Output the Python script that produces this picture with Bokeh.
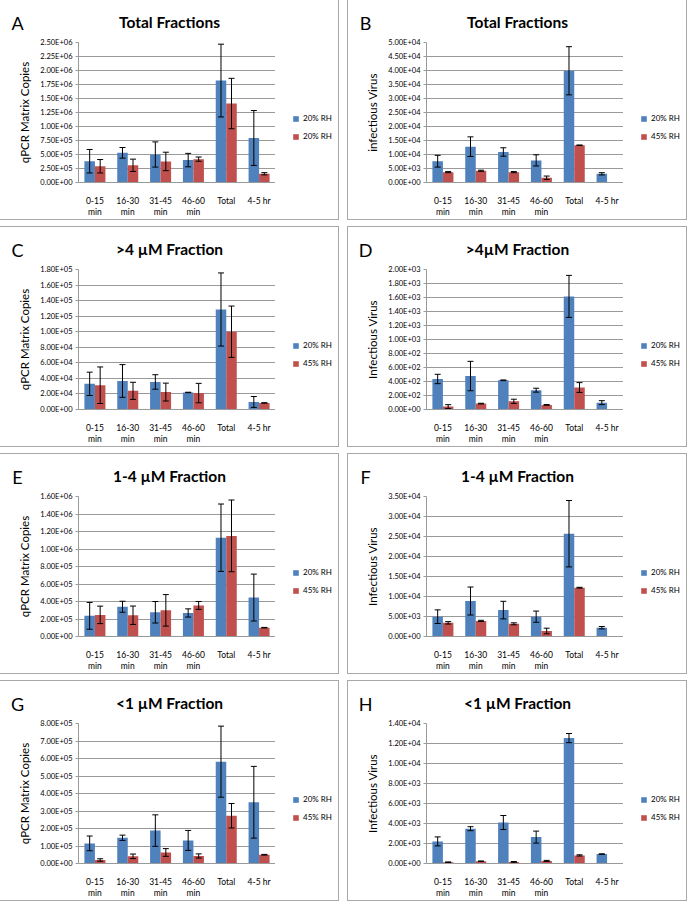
from bokeh.plotting import figure
from bokeh.models import (ColumnDataSource, Whisker, TeeHead, Legend, LegendItem,
                          FixedTicker, Range1d, FactorRange, CategoricalAxis,
                          CustomJSTickFormatter)
from bokeh.transform import dodge
from bokeh.layouts import column, row
from bokeh.core.properties import value
from bokeh.embed import file_html
from bokeh.resources import INLINE

categories = ["0-15", "16-30", "31-45", "46-60", "Total", "4-5 hr"]
second_line = ["min", "min", "min", "min", "", ""]

# Panel A
a_blue = [3.8e5, 5.3e5, 5.0e5, 4.0e5, 1.82e6, 7.95e5]
a_blue_err = [2.1e5, 0.95e5, 2.25e5, 1.2e5, 6.5e5, 4.9e5]
a_red = [2.9e5, 3.07e5, 3.76e5, 4.17e5, 1.41e6, 1.56e5]
a_red_err = [1.2e5, 1.1e5, 1.65e5, 0.38e5, 4.5e5, 0.2e5]
a_ticks = [0, 250000, 500000, 750000, 1000000, 1250000, 1500000, 1750000, 2000000, 2250000, 2500000]

# Panel B
b_blue = [7.6e3, 12.8e3, 10.9e3, 7.9e3, 39.9e3, 3.1e3]
b_blue_err = [2.1e3, 3.5e3, 1.5e3, 2.0e3, 8.6e3, 0.4e3]
b_red = [3.7e3, 4.2e3, 3.7e3, 1.7e3, 13.3e3, 0]
b_red_err = [0.2e3, 0.2e3, 0.2e3, 0.6e3, 0.1e3, 0]
b_ticks = [0, 5000, 10000, 15000, 20000, 25000, 30000, 35000, 40000, 45000, 50000]

# Panel C
c_blue = [3.3e4, 3.67e4, 3.54e4, 2.19e4, 12.86e4, 0.97e4]
c_blue_err = [1.5e4, 2.1e4, 0.93e4, 0.03e4, 4.7e4, 0.7e4]
c_red = [3.12e4, 2.4e4, 2.24e4, 2.11e4, 10.0e4, 0.84e4]
c_red_err = [2.35e4, 1.1e4, 1.15e4, 1.25e4, 3.3e4, 0.03e4]
c_ticks = [0, 20000, 40000, 60000, 80000, 100000, 120000, 140000, 160000, 180000]

# Panel D
d_blue = [436, 478, 417, 276, 1616, 98]
d_blue_err = [67, 210, 5, 28, 300, 28]
d_red = [42, 84, 117, 66, 314, 0]
d_red_err = [27, 5, 30, 5, 70, 0]
d_ticks = [0, 200, 400, 600, 800, 1000, 1200, 1400, 1600, 1800, 2000]

# Panel E
e_blue = [2.36e5, 3.4e5, 2.77e5, 2.69e5, 11.29e5, 4.45e5]
e_blue_err = [1.53e5, 0.63e5, 1.23e5, 0.47e5, 3.85e5, 2.68e5]
e_red = [2.47e5, 2.43e5, 2.99e5, 3.55e5, 11.5e5, 1.01e5]
e_red_err = [1.0e5, 1.05e5, 1.8e5, 0.45e5, 4.1e5, 0.03e5]
e_ticks = [0, 200000, 400000, 600000, 800000, 1000000, 1200000, 1400000, 1600000]

# Panel F
f_blue = [4.96e3, 8.87e3, 6.6e3, 4.96e3, 25.7e3, 2.2e3]
f_blue_err = [1.7e3, 3.5e3, 2.2e3, 1.4e3, 8.3e3, 0.3e3]
f_red = [3.42e3, 3.9e3, 3.17e3, 1.38e3, 12.2e3, 0]
f_red_err = [0.3e3, 0.15e3, 0.25e3, 0.7e3, 0.1e3, 0]
f_ticks = [0, 5000, 10000, 15000, 20000, 25000, 30000, 35000]

# Panel G
g_blue = [1.15e5, 1.47e5, 1.88e5, 1.32e5, 5.82e5, 3.5e5]
g_blue_err = [0.42e5, 0.15e5, 0.9e5, 0.57e5, 2.03e5, 2.05e5]
g_red = [0.2e5, 0.41e5, 0.63e5, 0.43e5, 2.73e5, 0.5e5]
g_red_err = [0.07e5, 0.13e5, 0.22e5, 0.12e5, 0.7e5, 0.02e5]
g_ticks = [0, 100000, 200000, 300000, 400000, 500000, 600000, 700000, 800000]

# Panel H
h_blue = [2.21e3, 3.48e3, 4.1e3, 2.64e3, 12.54e3, 0.94e3]
h_blue_err = [0.45e3, 0.2e3, 0.7e3, 0.6e3, 0.46e3, 0.03e3]
h_red = [0.13e3, 0.23e3, 0.16e3, 0.26e3, 0.81e3, 0]
h_red_err = [0.03e3, 0.02e3, 0.04e3, 0.05e3, 0.06e3, 0]
h_ticks = [0, 2000, 4000, 6000, 8000, 10000, 12000, 14000]

FONT = "Lato"
BLUE = "#4F81BD"
RED = "#C0504D"
GRID = "#9a9a9a"
PW = 338                 # panel width
HDR = 35                 # header height (letter + title)
BL, BTOP, BB = 78, 7, 36
FW, FH = 197, 140
LW = PW - BL - FW        # legend strip width
MH = BTOP + FH + BB      # main figure height
OUTLINE = {"outline": "1px solid #a8a8a8"}


def fmt(t):
    return f"{t:.2E}"


def make_panel(letter, title, ylabel, blue, blue_err, red, red_err, ticks, labels):
    # header with panel letter and title
    hd = figure(width=PW, height=HDR, x_range=Range1d(0, PW), y_range=Range1d(0, HDR),
                x_axis_type=None, y_axis_type=None, min_border=0,
                output_backend="svg", toolbar_location=None)
    hd.outline_line_color = None
    hd.grid.visible = False
    hd.text(x=[17], y=[HDR - 22], text=[letter], text_font=value(FONT),
            text_font_size="18px", text_align="center", text_baseline="middle",
            text_color="black")
    hd.text(x=[PW / 2], y=[HDR - 21], text=[title], text_font=value(FONT),
            text_font_size="15.5px", text_font_style="bold", text_align="center",
            text_baseline="middle", text_color="black")

    # main chart
    p = figure(x_range=FactorRange(*categories), y_range=Range1d(0, ticks[-1]),
               frame_width=FW, frame_height=FH,
               min_border_left=BL, min_border_right=0,
               min_border_top=BTOP, min_border_bottom=BB,
               output_backend="svg", toolbar_location=None)
    p.outline_line_color = None
    p.background_fill_color = "white"
    p.border_fill_color = "white"

    src = ColumnDataSource(dict(x=categories, blue=blue, red=red))
    p.vbar(x=dodge("x", -0.16, range=p.x_range), top="blue", width=0.32,
           source=src, fill_color=BLUE, line_color=None)
    p.vbar(x=dodge("x", 0.16, range=p.x_range), top="red", width=0.32,
           source=src, fill_color=RED, line_color=None)

    for vals, errs, off in ((blue, blue_err, -0.16), (red, red_err, 0.16)):
        xs = [c for c, v in zip(categories, vals) if v > 0]
        up = [v + e for v, e in zip(vals, errs) if v > 0]
        lo = [max(v - e, 0) for v, e in zip(vals, errs) if v > 0]
        ws = ColumnDataSource(dict(x=xs, upper=up, lower=lo))
        w = Whisker(source=ws, base=dodge("x", off, range=p.x_range), upper="upper",
                    lower="lower", line_color="black", line_width=1, level="overlay",
                    upper_head=TeeHead(size=6, line_color="black", line_width=1),
                    lower_head=TeeHead(size=6, line_color="black", line_width=1))
        p.add_layout(w)

    tick_labels = [fmt(t) for t in ticks]
    p.yaxis.ticker = FixedTicker(ticks=ticks)
    p.yaxis.formatter = CustomJSTickFormatter(
        args=dict(tv=ticks, tl=tick_labels),
        code="const i = tv.indexOf(tick); return i >= 0 ? tl[i] : '';")
    p.yaxis.minor_tick_line_color = None
    p.yaxis.major_tick_in = 0
    p.yaxis.major_tick_out = 3
    p.yaxis.major_tick_line_color = GRID
    p.yaxis.axis_line_color = GRID
    p.yaxis.major_label_standoff = 3
    p.yaxis.major_label_text_font = FONT
    p.yaxis.major_label_text_font_size = "7.5px"
    p.yaxis.major_label_text_color = "black"
    p.yaxis.axis_label = ylabel
    p.yaxis.axis_label_text_font = FONT
    p.yaxis.axis_label_text_font_size = "11.5px"
    p.yaxis.axis_label_text_font_style = "normal"
    p.yaxis.axis_label_text_color = "black"
    p.yaxis.axis_label_standoff = 6

    p.xaxis.major_tick_line_color = None
    p.xaxis.minor_tick_line_color = None
    p.xaxis.axis_line_color = GRID
    p.xaxis.major_label_text_font = FONT
    p.xaxis.major_label_text_font_size = "8.5px"
    p.xaxis.major_label_text_color = "black"
    p.xaxis.major_label_standoff = 7

    ax2 = CategoricalAxis(axis_line_color=None, major_tick_line_color=None,
                          minor_tick_line_color=None, major_label_standoff=-8,
                          major_label_text_font=FONT, major_label_text_font_size="8.5px",
                          major_label_text_color="black",
                          formatter=CustomJSTickFormatter(
                              args=dict(cats=categories, lines=second_line),
                              code="const i = cats.indexOf(tick); return i >= 0 ? lines[i] : '';"))
    p.add_layout(ax2, "below")

    p.xgrid.grid_line_color = None
    p.ygrid.grid_line_color = GRID
    p.ygrid.grid_line_width = 1

    # legend strip to the right of the chart (key swatches sit outside its visible range)
    lg = figure(width=LW, height=MH, x_range=Range1d(0, 1), y_range=Range1d(0, 1),
                x_axis_type=None, y_axis_type=None, min_border=0,
                output_backend="svg", toolbar_location=None)
    lg.outline_line_color = None
    lg.grid.visible = False
    kb = lg.vbar(x=[5], top=[5], bottom=[4], width=0.5, fill_color=BLUE, line_color=None)
    kr = lg.vbar(x=[5], top=[5], bottom=[4], width=0.5, fill_color=RED, line_color=None)
    legend = Legend(items=[LegendItem(label=labels[0], renderers=[kb]),
                           LegendItem(label=labels[1], renderers=[kr])],
                    orientation="vertical", location=(17, 40),
                    glyph_width=7, glyph_height=7, label_height=9, spacing=8,
                    label_standoff=4, padding=0, margin=0,
                    border_line_color=None, background_fill_alpha=0,
                    label_text_font=FONT, label_text_font_size="8px",
                    label_text_color="black")
    lg.add_layout(legend)

    return column(hd, row(p, lg, spacing=0), spacing=0, styles=OUTLINE)


qpcr = "qPCR Matrix Copies"
L2 = ["20% RH", "45% RH"]
pA = make_panel("A", "Total Fractions", qpcr, a_blue, a_blue_err, a_red, a_red_err, a_ticks, ["20% RH", "20% RH"])
pB = make_panel("B", "Total Fractions", "infectious Virus", b_blue, b_blue_err, b_red, b_red_err, b_ticks, L2)
pC = make_panel("C", ">4 µM Fraction", qpcr, c_blue, c_blue_err, c_red, c_red_err, c_ticks, L2)
pD = make_panel("D", ">4µM Fraction", "Infectious Virus", d_blue, d_blue_err, d_red, d_red_err, d_ticks, L2)
pE = make_panel("E", "1-4 µM Fraction", qpcr, e_blue, e_blue_err, e_red, e_red_err, e_ticks, L2)
pF = make_panel("F", "1-4 µM Fraction", "Infectious Virus", f_blue, f_blue_err, f_red, f_red_err, f_ticks, L2)
pG = make_panel("G", "<1 µM Fraction", qpcr, g_blue, g_blue_err, g_red, g_red_err, g_ticks, L2)
pH = make_panel("H", "<1 µM Fraction", "Infectious Virus", h_blue, h_blue_err, h_red, h_red_err, h_ticks, L2)

layout = column(row(pA, pB, spacing=10), row(pC, pD, spacing=10),
                row(pE, pF, spacing=10), row(pG, pH, spacing=10), spacing=8)

open("out.html", "w").write(file_html(layout, INLINE))
